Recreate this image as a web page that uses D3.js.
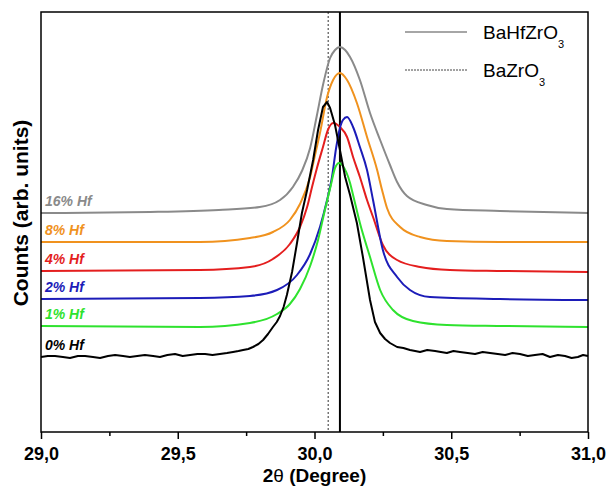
<!DOCTYPE html>
<html>
<head>
<meta charset="utf-8">
<script src="https://cdn.jsdelivr.net/npm/d3@7"></script>
<style>
  body { margin: 0; background: #fff; }
  svg { display: block; font-family: "Liberation Sans", Arial, sans-serif; }
</style>
</head>
<body>
<svg id="chart" width="607" height="488"></svg>
<script>
// x in degrees (2theta), y in arbitrary counts
var hf16 = [[29.0,219],[29.40,220],[29.65,222],[29.80,225],[29.874,232],[29.921,245],[29.954,261],[29.984,284],[30.009,317],[30.031,347],[30.057,374],[30.075,382],[30.093,385],[30.112,382],[30.130,375],[30.166,352],[30.203,319],[30.240,292],[30.276,267],[30.302,250],[30.338,236],[30.411,227],[30.484,223],[30.678,221],[31.0,219]];
var hf8 = [[29.0,190],[29.581,190],[29.764,194],[29.848,200],[29.910,212],[29.947,228],[29.984,255],[30.002,277],[30.020,299],[30.046,335],[30.068,352],[30.093,359],[30.119,352],[30.155,329],[30.192,295],[30.229,262],[30.247,242],[30.265,224],[30.313,205],[30.386,195],[30.484,191],[30.678,190],[31.0,190]];
var hf4 = [[29.0,161],[29.581,162],[29.764,165],[29.848,173],[29.910,188],[29.947,205],[29.973,225],[29.991,245],[30.009,264],[30.031,285],[30.049,302],[30.068,309],[30.093,305],[30.119,295],[30.141,275],[30.166,255],[30.192,232],[30.214,215],[30.250,187],[30.302,172],[30.386,165],[30.495,162],[30.678,161],[31.0,160]];
var hf2 = [[29.0,133],[29.581,134],[29.764,136],[29.863,142],[29.936,157],[29.984,178],[30.020,205],[30.046,232],[30.064,255],[30.079,284],[30.093,304],[30.104,312],[30.119,315],[30.141,305],[30.166,285],[30.192,262],[30.214,232],[30.250,182],[30.302,155],[30.349,142],[30.422,135],[30.678,133],[31.0,132]];
var hf1 = [[29.0,106],[29.581,105],[29.764,109],[29.863,118],[29.910,128],[29.947,143],[29.984,166],[30.013,192],[30.038,222],[30.060,247],[30.075,264],[30.090,269],[30.104,266],[30.130,249],[30.141,237],[30.166,209],[30.203,175],[30.240,142],[30.287,122],[30.360,111],[30.484,107],[30.678,106],[31.0,105]];
var hf0 = [[29.0,75],[29.025,76],[29.051,76],[29.080,75],[29.106,74],[29.135,76],[29.161,76],[29.190,75],[29.216,74],[29.245,76],[29.271,77],[29.300,76],[29.325,75],[29.352,76],[29.380,77],[29.410,76],[29.435,75],[29.462,77],[29.490,78],[29.518,76],[29.545,77],[29.572,78],[29.600,78],[29.627,77],[29.654,78],[29.680,79],[29.702,80],[29.722,81],[29.739,82],[29.758,83],[29.775,85],[29.795,88],[29.812,92],[29.830,98],[29.848,105],[29.862,110],[29.874,116],[29.887,125],[29.899,137],[29.918,160],[29.936,189],[29.954,219],[29.973,242],[29.995,272],[30.013,302],[30.031,325],[30.046,330],[30.057,324],[30.075,307],[30.093,282],[30.112,255],[30.130,237],[30.155,209],[30.177,175],[30.203,132],[30.221,110],[30.240,99],[30.258,93],[30.276,89],[30.302,85],[30.325,84],[30.349,82],[30.368,81],[30.386,80],[30.412,82],[30.441,81],[30.462,80],[30.484,79],[30.508,81],[30.532,80],[30.560,79],[30.587,78],[30.615,80],[30.642,79],[30.670,78],[30.697,77],[30.724,79],[30.751,78],[30.780,76],[30.806,77],[30.834,78],[30.861,75],[30.890,77],[30.916,76],[30.940,74],[30.963,75],[30.982,77],[31.0,76]];

var seriesNames = ["16% Hf", "8% Hf", "4% Hf", "2% Hf", "1% Hf", "0% Hf"];
var seriesData = [hf16, hf8, hf4, hf2, hf1, hf0];
var seriesColors = ["#8a8a8a", "#f0921e", "#e41e1e", "#1c1cb8", "#2ee22e", "#000000"];

var refLines = [30.093, 30.05];   // BaHfZrO3 (solid), BaZrO3 (dotted)
var legendNames = ["BaHfZrO", "BaZrO"];
var majorTicks = [29.0, 29.5, 30.0, 30.5, 31.0];
var tickLabels = ["29,0", "29,5", "30,0", "30,5", "31,0"];
var minorTicks = [29.25, 29.75, 30.25, 30.75];

var margin = { top: 12, right: 19, bottom: 56, left: 41 },
    width = 607 - margin.left - margin.right,
    height = 488 - margin.top - margin.bottom;

var svg = d3.select("#chart");
var g = svg.append("g")
    .attr("transform", "translate(" + margin.left + "," + margin.top + ")");

var x = d3.scaleLinear().domain([29, 31]).range([0, width]);
var y = d3.scaleLinear().domain([0, 420]).range([height, 0]);

// reference lines
g.append("line")
    .attr("x1", x(refLines[1])).attr("x2", x(refLines[1]))
    .attr("y1", 0).attr("y2", height)
    .attr("stroke", "#333").attr("stroke-width", 1)
    .attr("stroke-dasharray", "2,2");
g.append("line")
    .attr("x1", x(refLines[0])).attr("x2", x(refLines[0]))
    .attr("y1", 0).attr("y2", height)
    .attr("stroke", "#000").attr("stroke-width", 2);

// curves
var smooth = d3.line()
    .x(function (d) { return x(d[0]); })
    .y(function (d) { return y(d[1]); })
    .curve(d3.curveMonotoneX);
var raw = d3.line()
    .x(function (d) { return x(d[0]); })
    .y(function (d) { return y(d[1]); });

seriesData.forEach(function (data, i) {
    g.append("path")
        .datum(data)
        .attr("d", i === 5 ? raw : smooth)
        .attr("fill", "none")
        .attr("stroke", seriesColors[i])
        .attr("stroke-width", 2)
        .attr("stroke-linejoin", "round");

    g.append("text")
        .attr("x", 4)
        .attr("y", y(data[0][1]) - 7)
        .attr("fill", seriesColors[i])
        .attr("font-size", 14)
        .attr("font-weight", "bold")
        .attr("font-style", "italic")
        .text(seriesNames[i]);
});

// frame
g.append("rect")
    .attr("width", width).attr("height", height)
    .attr("fill", "none").attr("stroke", "#000").attr("stroke-width", 1.5);

// x axis
var xAxis = g.append("g")
    .attr("transform", "translate(0," + height + ")")
    .call(d3.axisBottom(x)
        .tickValues(majorTicks)
        .tickSize(7)
        .tickSizeOuter(0)
        .tickFormat(function (d, i) { return tickLabels[i]; }));
xAxis.select(".domain").remove();
xAxis.selectAll(".tick line").attr("stroke-width", 1.5);
xAxis.selectAll("text")
    .attr("font-family", "Liberation Sans, Arial, sans-serif")
    .attr("font-size", 18).attr("font-weight", "bold").attr("fill", "#000")
    .attr("y", 28).attr("dy", null);

var xMinor = g.append("g")
    .attr("transform", "translate(0," + height + ")")
    .call(d3.axisBottom(x).tickValues(minorTicks).tickSize(4).tickFormat(""));
xMinor.select(".domain").remove();
xMinor.selectAll(".tick line").attr("stroke-width", 1.5);

var title = svg.append("text")
    .attr("x", margin.left + width / 2)
    .attr("y", 482)
    .attr("text-anchor", "middle")
    .attr("font-size", 19).attr("font-weight", "bold");
title.append("tspan").text("2");
title.append("tspan").attr("font-weight", "normal").text("\u03b8");
title.append("tspan").text(" (Degree)");

// y label
svg.append("text")
    .attr("transform", "translate(28,213) rotate(-90)")
    .attr("text-anchor", "middle")
    .attr("font-size", 21).attr("font-weight", "bold")
    .text("Counts (arb. units)");

// legend
var legendY = [32, 70];
legendNames.forEach(function (name, i) {
    svg.append("line")
        .attr("x1", 405).attr("x2", 467)
        .attr("y1", legendY[i]).attr("y2", legendY[i])
        .attr("stroke", i === 0 ? "#888" : "#444")
        .attr("stroke-width", i === 0 ? 1.5 : 1)
        .attr("stroke-dasharray", i === 0 ? null : "2,1");
    var t = svg.append("text")
        .attr("x", 483).attr("y", legendY[i] + 7)
        .attr("font-size", 19);
    t.append("tspan").text(name);
    t.append("tspan").attr("font-size", 11).attr("dy", 9).text("3");
});
</script>
</body>
</html>
